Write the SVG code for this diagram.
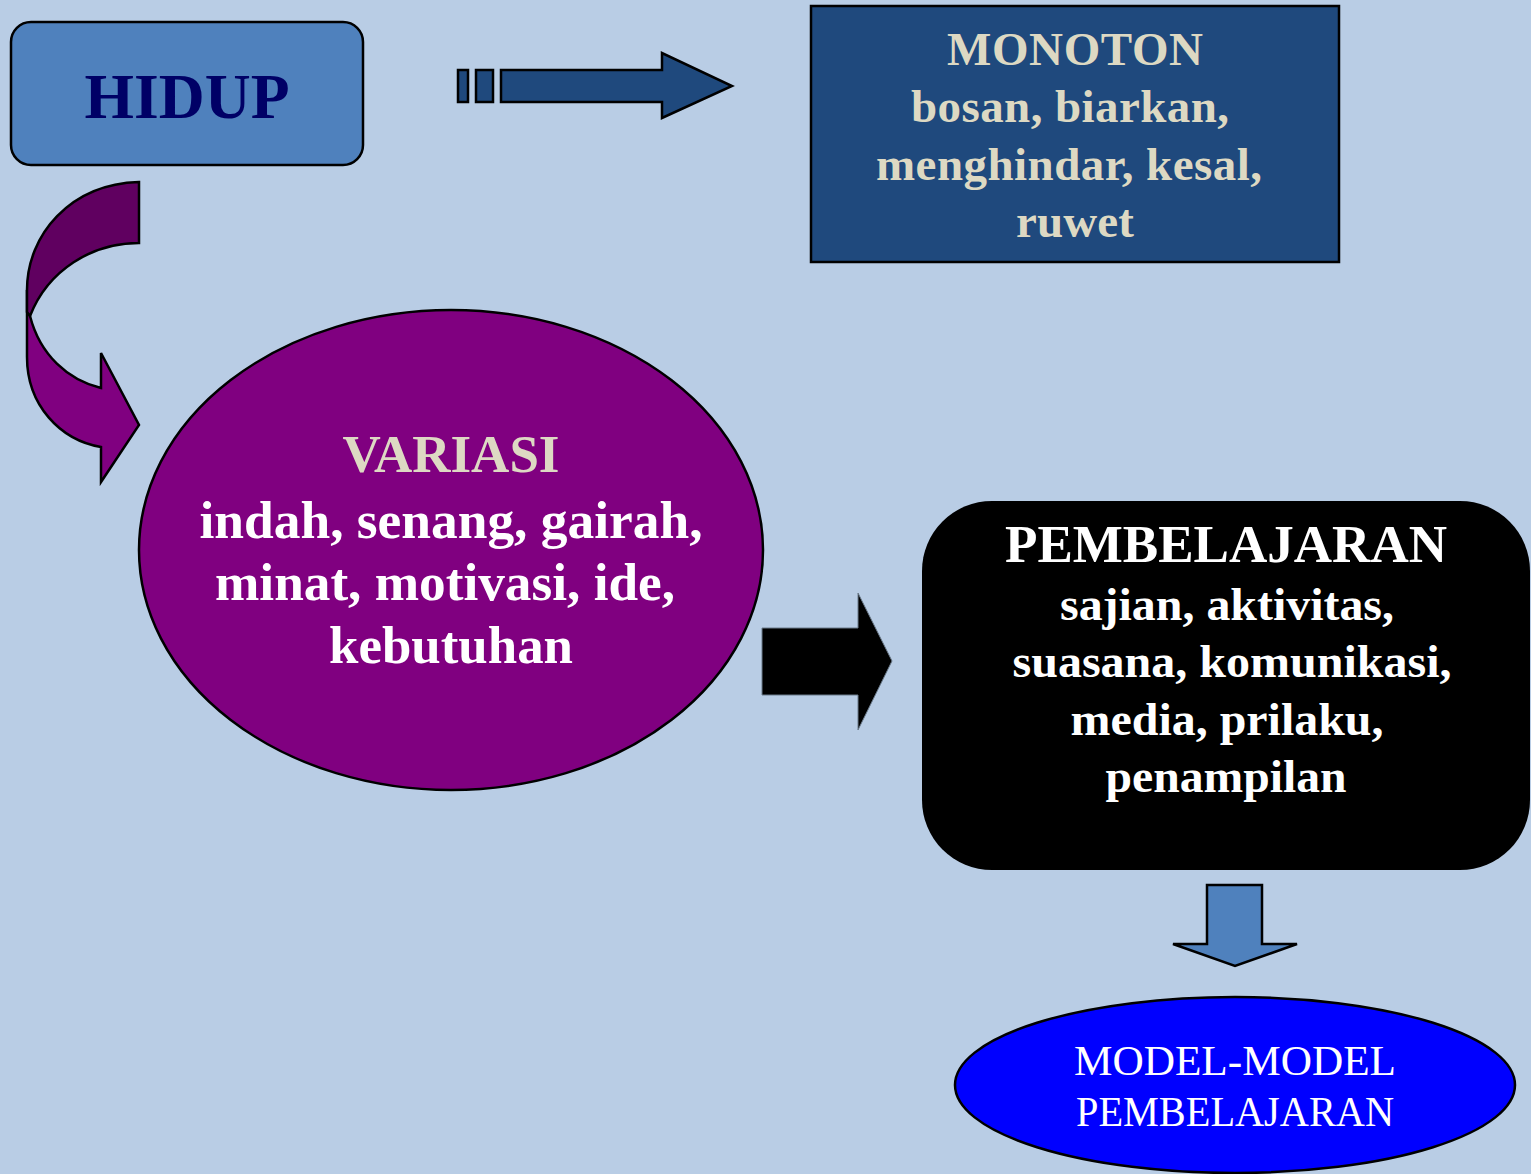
<svg xmlns="http://www.w3.org/2000/svg" width="1531" height="1174" viewBox="0 0 1531 1174">
<style>
.t{font-family:"Liberation Serif","Times New Roman",serif;text-anchor:middle;font-weight:bold}
.s{stroke:#000;stroke-width:2.5}
</style>
<rect x="0" y="0" width="1531" height="1174" fill="#b9cde5"/>
<g id="connectors">
<g id="curved-arrow">
<path class="s" fill="#800080" d="M27,290 L27,357 C27,405 60,440 101,447 L101,482 L139,425 L101,353 L101,388 C68,380 40,355 30,316 Z"/>
<path class="s" fill="#600060" d="M139,182 C70,184 27,235 27,290 L27,312 L30,316 C48,270 92,243 139,243 Z"/>
</g>
<g id="striped-arrow" class="s" fill="#1f497d">
<rect x="458" y="70" width="10" height="32"/>
<rect x="476" y="70" width="17" height="32"/>
<path d="M501,70 L662,70 L662,53 L732,86 L662,118 L662,102 L501,102 Z"/>
</g>
<path id="black-arrow" fill="#000" stroke="#6a7a8a" stroke-width="1" d="M762,628 L858,628 L858,593 L892,661 L858,730 L858,695 L762,695 Z"/>
<path id="down-arrow" class="s" fill="#4f81bd" d="M1207,885 L1262,885 L1262,944 L1297,944 L1235,966 L1173,944 L1207,944 Z"/>
</g>
<g id="hidup">
<rect class="s" x="11" y="22" width="352" height="143" rx="20" fill="#4f81bd"/>
<text class="t" x="187" y="118" font-size="63" fill="#000066" textLength="205" lengthAdjust="spacingAndGlyphs">HIDUP</text>
</g>
<g id="monoton">
<rect class="s" x="811" y="6" width="528" height="256" fill="#1f497d"/>
<g class="t" font-size="47" fill="#ddd9c3" lengthAdjust="spacingAndGlyphs">
<text x="1075" y="65" textLength="256">MONOTON</text>
<text x="1070" y="122" textLength="318">bosan, biarkan,</text>
<text x="1069" y="180" textLength="386">menghindar, kesal,</text>
<text x="1075" y="237" textLength="118">ruwet</text>
</g>
</g>
<g id="variasi">
<ellipse class="s" cx="451" cy="550" rx="312" ry="240" fill="#800080"/>
<text class="t" x="451" y="472" font-size="53" fill="#ddd9c3" textLength="217" lengthAdjust="spacingAndGlyphs">VARIASI</text>
<g class="t" font-size="52" fill="#fff">
<text x="451" y="538" textLength="503" lengthAdjust="spacingAndGlyphs">indah, senang, gairah,</text>
<text x="445" y="600" textLength="460" lengthAdjust="spacingAndGlyphs">minat, motivasi, ide,</text>
<text x="451" y="663" textLength="244" lengthAdjust="spacingAndGlyphs">kebutuhan</text>
</g>
</g>
<g id="pembelajaran">
<rect x="922" y="501" width="608" height="369" rx="70" fill="#000"/>
<text class="t" x="1226" y="562" font-size="53" fill="#fff" textLength="442" lengthAdjust="spacingAndGlyphs">PEMBELAJARAN</text>
<g class="t" font-size="47" fill="#fff">
<text x="1227" y="620" textLength="334" lengthAdjust="spacingAndGlyphs">sajian, aktivitas,</text>
<text x="1232" y="677" textLength="439" lengthAdjust="spacingAndGlyphs">suasana, komunikasi,</text>
<text x="1227" y="735" textLength="313" lengthAdjust="spacingAndGlyphs">media, prilaku,</text>
<text x="1226" y="792" textLength="241" lengthAdjust="spacingAndGlyphs">penampilan</text>
</g>
</g>
<g id="model">
<ellipse class="s" cx="1235" cy="1085" rx="280" ry="88" fill="#0000ff"/>
<g font-family="Liberation Serif,'Times New Roman',serif" text-anchor="middle" font-size="42" fill="#fff">
<text x="1235" y="1075" textLength="322" lengthAdjust="spacingAndGlyphs">MODEL-MODEL</text>
<text x="1235" y="1126" textLength="318" lengthAdjust="spacingAndGlyphs">PEMBELAJARAN</text>
</g>
</g>
</svg>
